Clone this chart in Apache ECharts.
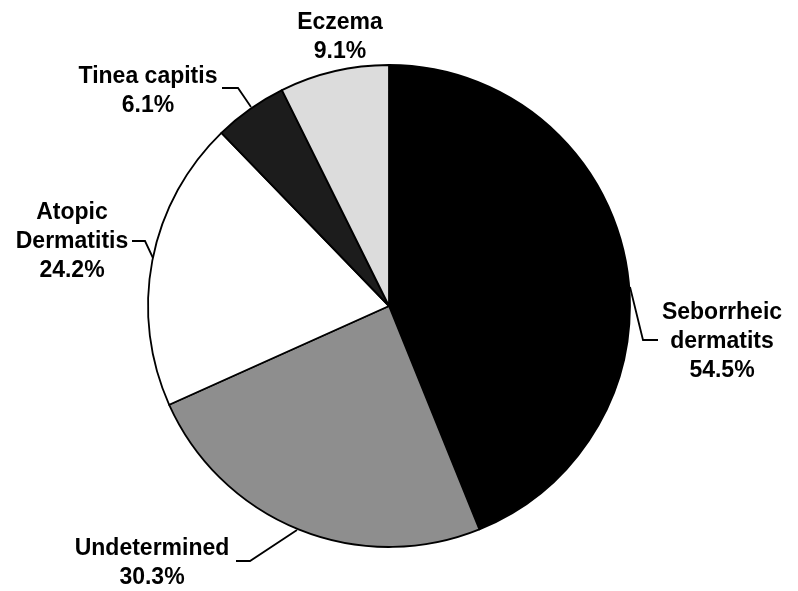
<!DOCTYPE html>
<html>
<head>
<meta charset="utf-8">
<script src="https://cdn.jsdelivr.net/npm/echarts@6/dist/echarts.min.js"></script>
<style>
    html, body { margin: 0; padding: 0; background: #fff; }
    #chart { width: 798px; height: 591px; }
</style>
</head>
<body>
<div id="chart"></div>
<script>
// 数据
const categories = ['Seborrheic\ndermatits', 'Undetermined', 'Atopic\nDermatitis', 'Tinea capitis', 'Eczema'];
const percents = [54.5, 30.3, 24.2, 6.1, 9.1];
const sliceColors = ['#000000', '#8e8e8e', '#ffffff', '#1c1c1c', '#dcdcdc'];

// 标签位置 (label block centre + leader line)
const labelSpots = {
    'Seborrheic\ndermatits': { x: 722, y: 342, line: [[630, 287], [643, 340], [658, 340]] },
    'Undetermined': { x: 152, y: 563, line: [[297, 530], [250, 561], [236, 561]] },
    'Atopic\nDermatitis': { x: 72, y: 242, line: [[153, 258], [145, 241], [132, 241]] },
    'Tinea capitis': { x: 148, y: 91, line: [[251, 107], [238, 88], [222, 88]] },
    'Eczema': { x: 340, y: 37, line: null }
};

const chart = echarts.init(document.getElementById('chart'));

chart.setOption({
    animation: false,
    series: [
        {
            type: 'pie',
            center: [389, 306],
            radius: [0, 241],
            startAngle: 90,
            clockwise: true,
            avoidLabelOverlap: false,
            itemStyle: {
                borderColor: '#000',
                borderWidth: 1.8
            },
            label: {
                show: true,
                position: 'outside',
                formatter: p => p.name + '\n' + p.value.toFixed(1) + '%',
                fontFamily: 'Liberation Sans, Arial, sans-serif',
                fontWeight: 'bold',
                fontSize: 23,
                lineHeight: 29,
                color: '#000',
                align: 'center'
            },
            labelLine: {
                show: true,
                length: 10,
                length2: 10,
                lineStyle: { color: '#000', width: 1.8 }
            },
            labelLayout: params => {
                const spot = labelSpots[categories[params.dataIndex]];
                const out = {
                    x: spot.x,
                    y: spot.y,
                    align: 'center',
                    verticalAlign: 'middle'
                };
                if (spot.line) {
                    out.labelLinePoints = spot.line;
                }
                return out;
            },
            data: categories.map((name, i) => ({
                name: name,
                value: percents[i],
                itemStyle: { color: sliceColors[i] },
                labelLine: { show: !!labelSpots[name].line }
            }))
        }
    ]
});
</script>
</body>
</html>
